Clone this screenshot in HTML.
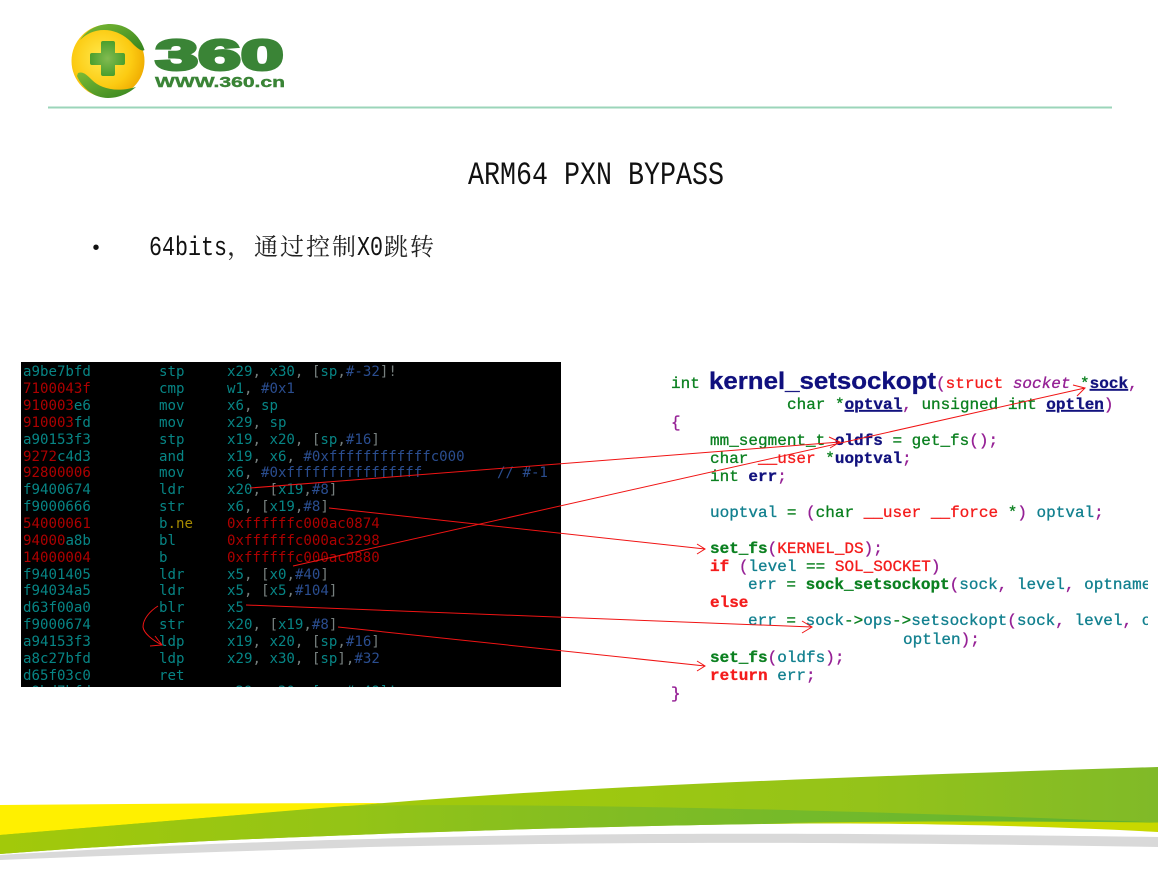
<!DOCTYPE html>
<html><head><meta charset="utf-8"><style>
html,body{margin:0;padding:0;background:#fff;width:1158px;height:869px;overflow:hidden}
svg{display:block}
text{white-space:pre}
.a text,.a{font-family:"DejaVu Sans Mono","Liberation Mono",monospace;font-size:14.1px}
.c{font-family:"Liberation Mono",monospace;font-size:16px;stroke-width:.3}
.t{fill:#078585}.r{fill:#ad0000}.b{fill:#2a4d8f}.g{fill:#77807f}.y{fill:#a58a00}
.gr{fill:#0b8020;stroke:#0b8020}.n{fill:#12127e;stroke:#12127e}.rd{fill:#f41c1c;stroke:#f41c1c}.te{fill:#12808f;stroke:#12808f}.p{fill:#952095;stroke:#952095}
.bd{font-weight:bold}.u{text-decoration:underline}
</style></head><body>
<svg width="1158" height="869" viewBox="0 0 1158 869" xmlns="http://www.w3.org/2000/svg">
<defs>
<radialGradient id="yl" cx="42%" cy="45%" r="62%"><stop offset="0" stop-color="#ffe94d"/><stop offset=".65" stop-color="#fccb12"/><stop offset="1" stop-color="#eea900"/></radialGradient>
<linearGradient id="lg" x1="0" x2="1" y1="0" y2="1"><stop offset="0" stop-color="#7dbb35"/><stop offset="1" stop-color="#35841f"/></linearGradient>
<radialGradient id="pl" cx="50%" cy="50%" r="55%"><stop offset="0" stop-color="#82bb50"/><stop offset="1" stop-color="#459c2a"/></radialGradient>
<linearGradient id="gm" gradientUnits="userSpaceOnUse" x1="0" x2="1158" y1="0" y2="0"><stop offset="0" stop-color="#a4ca08"/><stop offset=".45" stop-color="#a0c90d"/><stop offset=".75" stop-color="#94c31a"/><stop offset="1" stop-color="#80ba28"/></linearGradient>
<linearGradient id="gd" gradientUnits="userSpaceOnUse" x1="0" x2="1158" y1="0" y2="0"><stop offset="0" stop-color="#a2c90a"/><stop offset=".3" stop-color="#94c416"/><stop offset=".55" stop-color="#80bc24"/><stop offset=".8" stop-color="#6cb82e"/><stop offset="1" stop-color="#5fb030"/></linearGradient>
<clipPath id="cp1"><rect x="21" y="362" width="540" height="325"/></clipPath>
<clipPath id="cp2"><rect x="660" y="360" width="488" height="350"/></clipPath>
</defs>

<!-- logo -->
<circle cx="108" cy="61" r="36.5" fill="url(#yl)"/>
<path d="M80 40C88 28 100 24 110 24C128 24 140 36 144.500 50C142 52 137 48 133 44C126 36 116 30 104 30C94 30 86 34 80 40Z" fill="url(#lg)"/>
<path d="M78 73C83 71 87 75 92 80C100 88 115 93 136 87C128 94 118 98 108 98C94 98 82 88 77 76Z" fill="url(#lg)"/>
<path d="M103 41h10a2 2 0 0 1 2 2v10h8a2 2 0 0 1 2 2v8a2 2 0 0 1-2 2h-8v9a2 2 0 0 1-2 2h-10a2 2 0 0 1-2-2v-9h-9a2 2 0 0 1-2-2v-8a2 2 0 0 1 2-2h9v-10a2 2 0 0 1 2-2z" fill="url(#pl)"/>
<text x="155.500" y="69.500" font-family="Liberation Sans" font-weight="bold" font-size="43" textLength="128" lengthAdjust="spacingAndGlyphs" fill="#3a8436" stroke="#3a8436" stroke-width="3">360</text>
<text x="155" y="87" font-family="Liberation Sans" font-weight="bold" font-size="15" textLength="130" lengthAdjust="spacingAndGlyphs" fill="#3a8436" stroke="#3a8436" stroke-width=".4">WWW.360.cn</text>
<rect x="48" y="106.500" width="1064" height="2" fill="#9bd5ba"/>

<!-- title -->
<text x="468" y="184" font-family="Liberation Mono" font-size="32" textLength="256" lengthAdjust="spacingAndGlyphs" fill="#111">ARM64 PXN BYPASS</text>
<text x="92.500" y="254" font-family="Liberation Sans" font-size="20" fill="#111">•</text>
<text x="149" y="255" font-family="Liberation Mono" font-size="27" textLength="78" lengthAdjust="spacingAndGlyphs" fill="#111">64bits</text>
<text x="227" y="255" font-family="Noto Serif CJK SC,serif" font-size="25" fill="#222">，</text>
<text x="254 280 306 332" y="255" font-family="Noto Serif CJK SC,serif" font-size="24" fill="#222">通过控制</text>
<text x="357" y="255" font-family="Liberation Mono" font-size="27" textLength="26" lengthAdjust="spacingAndGlyphs" fill="#111">X0</text>
<text x="384 410" y="255" font-family="Noto Serif CJK SC,serif" font-size="24" fill="#222">跳转</text>

<!-- left panel -->
<rect x="21" y="362" width="540" height="325" fill="#000"/>
<g class="a" clip-path="url(#cp1)">
<text x="23" y="376"><tspan class="t">a9be7bfd</tspan></text><text x="159" y="376" class="t">stp</text><text x="227" y="376"><tspan class="t">x29</tspan><tspan class="g">, </tspan><tspan class="t">x30</tspan><tspan class="g">, [</tspan><tspan class="t">sp</tspan><tspan class="g">,</tspan><tspan class="b">#-32</tspan><tspan class="g">]!</tspan></text>
<text x="23" y="393" class="r">7100043f</text><text x="159" y="393" class="t">cmp</text><text x="227" y="393"><tspan class="t">w1</tspan><tspan class="g">, </tspan><tspan class="b">#0x1</tspan></text>
<text x="23" y="410"><tspan class="r">910003</tspan><tspan class="t">e6</tspan></text><text x="159" y="410" class="t">mov</text><text x="227" y="410"><tspan class="t">x6</tspan><tspan class="g">, </tspan><tspan class="t">sp</tspan></text>
<text x="23" y="427"><tspan class="r">910003</tspan><tspan class="t">fd</tspan></text><text x="159" y="427" class="t">mov</text><text x="227" y="427"><tspan class="t">x29</tspan><tspan class="g">, </tspan><tspan class="t">sp</tspan></text>
<text x="23" y="444" class="t">a90153f3</text><text x="159" y="444" class="t">stp</text><text x="227" y="444"><tspan class="t">x19</tspan><tspan class="g">, </tspan><tspan class="t">x20</tspan><tspan class="g">, [</tspan><tspan class="t">sp</tspan><tspan class="g">,</tspan><tspan class="b">#16</tspan><tspan class="g">]</tspan></text>
<text x="23" y="461"><tspan class="r">9272</tspan><tspan class="t">c4d3</tspan></text><text x="159" y="461" class="t">and</text><text x="227" y="461"><tspan class="t">x19</tspan><tspan class="g">, </tspan><tspan class="t">x6</tspan><tspan class="g">, </tspan><tspan class="b">#0xffffffffffffc000</tspan></text>
<text x="23" y="477" class="r">92800006</text><text x="159" y="477" class="t">mov</text><text x="227" y="477"><tspan class="t">x6</tspan><tspan class="g">, </tspan><tspan class="b">#0xffffffffffffffff</tspan></text><text x="497" y="477" class="b">// #-1</text>
<text x="23" y="494" class="t">f9400674</text><text x="159" y="494" class="t">ldr</text><text x="227" y="494"><tspan class="t">x20</tspan><tspan class="g">, [</tspan><tspan class="t">x19</tspan><tspan class="g">,</tspan><tspan class="b">#8</tspan><tspan class="g">]</tspan></text>
<text x="23" y="511" class="t">f9000666</text><text x="159" y="511" class="t">str</text><text x="227" y="511"><tspan class="t">x6</tspan><tspan class="g">, [</tspan><tspan class="t">x19</tspan><tspan class="g">,</tspan><tspan class="b">#8</tspan><tspan class="g">]</tspan></text>
<text x="23" y="528" class="r">54000061</text><text x="159" y="528"><tspan class="t">b</tspan><tspan class="y">.ne</tspan></text><text x="227" y="528" class="r">0xffffffc000ac0874</text>
<text x="23" y="545"><tspan class="r">94000</tspan><tspan class="t">a8b</tspan></text><text x="159" y="545" class="t">bl</text><text x="227" y="545" class="r">0xffffffc000ac3298</text>
<text x="23" y="562" class="r">14000004</text><text x="159" y="562" class="t">b</text><text x="227" y="562" class="r">0xffffffc000ac0880</text>
<text x="23" y="579" class="t">f9401405</text><text x="159" y="579" class="t">ldr</text><text x="227" y="579"><tspan class="t">x5</tspan><tspan class="g">, [</tspan><tspan class="t">x0</tspan><tspan class="g">,</tspan><tspan class="b">#40</tspan><tspan class="g">]</tspan></text>
<text x="23" y="595" class="t">f94034a5</text><text x="159" y="595" class="t">ldr</text><text x="227" y="595"><tspan class="t">x5</tspan><tspan class="g">, [</tspan><tspan class="t">x5</tspan><tspan class="g">,</tspan><tspan class="b">#104</tspan><tspan class="g">]</tspan></text>
<text x="23" y="612" class="t">d63f00a0</text><text x="159" y="612" class="t">blr</text><text x="227" y="612" class="t">x5</text>
<text x="23" y="629" class="t">f9000674</text><text x="159" y="629" class="t">str</text><text x="227" y="629"><tspan class="t">x20</tspan><tspan class="g">, [</tspan><tspan class="t">x19</tspan><tspan class="g">,</tspan><tspan class="b">#8</tspan><tspan class="g">]</tspan></text>
<text x="23" y="646" class="t">a94153f3</text><text x="159" y="646" class="t">ldp</text><text x="227" y="646"><tspan class="t">x19</tspan><tspan class="g">, </tspan><tspan class="t">x20</tspan><tspan class="g">, [</tspan><tspan class="t">sp</tspan><tspan class="g">,</tspan><tspan class="b">#16</tspan><tspan class="g">]</tspan></text>
<text x="23" y="663" class="t">a8c27bfd</text><text x="159" y="663" class="t">ldp</text><text x="227" y="663"><tspan class="t">x29</tspan><tspan class="g">, </tspan><tspan class="t">x30</tspan><tspan class="g">, [</tspan><tspan class="t">sp</tspan><tspan class="g">],</tspan><tspan class="b">#32</tspan></text>
<text x="23" y="680" class="t">d65f03c0</text><text x="159" y="680" class="t">ret</text>
<text x="23" y="696" class="t">a9bd7bfd</text><text x="227" y="696" class="t">x29, x30, [sp,#-48]!</text>
</g>

<!-- right code -->
<g class="c" clip-path="url(#cp2)">
<text x="671" y="388" class="gr">int</text>
<text x="709" y="389" font-family="Liberation Sans" font-weight="bold" font-size="24" textLength="227" lengthAdjust="spacingAndGlyphs" fill="#10107e" stroke="#10107e">kernel_setsockopt</text>
<text x="936" y="388"><tspan class="p">(</tspan><tspan class="rd">struct</tspan><tspan> </tspan><tspan class="p" font-style="italic">socket</tspan><tspan> </tspan><tspan class="gr">*</tspan><tspan class="n u bd">sock</tspan><tspan class="p">,</tspan></text>
<text x="787" y="409"><tspan class="gr">char</tspan><tspan> </tspan><tspan class="gr">*</tspan><tspan class="n u bd">optval</tspan><tspan class="p">,</tspan><tspan> </tspan><tspan class="gr">unsigned int</tspan><tspan> </tspan><tspan class="n u bd">optlen</tspan><tspan class="p">)</tspan></text>
<text x="671" y="427" class="p">{</text>
<text x="710" y="445"><tspan class="gr">mm_segment_t</tspan><tspan> </tspan><tspan class="n bd">oldfs</tspan><tspan class="gr"> = get_fs</tspan><tspan class="p">();</tspan></text>
<text x="710" y="463"><tspan class="gr">char</tspan><tspan> </tspan><tspan class="rd">__user</tspan><tspan> </tspan><tspan class="gr">*</tspan><tspan class="n bd">uoptval</tspan><tspan class="p">;</tspan></text>
<text x="710" y="481"><tspan class="gr">int</tspan><tspan> </tspan><tspan class="n bd">err</tspan><tspan class="p">;</tspan></text>
<text x="710" y="517"><tspan class="te">uoptval</tspan><tspan class="gr"> = </tspan><tspan class="p">(</tspan><tspan class="gr">char</tspan><tspan> </tspan><tspan class="rd">__user</tspan><tspan> </tspan><tspan class="rd">__force</tspan><tspan> </tspan><tspan class="gr">*</tspan><tspan class="p">)</tspan><tspan> </tspan><tspan class="te">optval</tspan><tspan class="p">;</tspan></text>
<text x="710" y="553"><tspan class="gr bd">set_fs</tspan><tspan class="p">(</tspan><tspan class="rd">KERNEL_DS</tspan><tspan class="p">);</tspan></text>
<text x="710" y="571"><tspan class="rd bd">if</tspan><tspan> </tspan><tspan class="p">(</tspan><tspan class="te">level</tspan><tspan class="gr"> == </tspan><tspan class="rd">SOL_SOCKET</tspan><tspan class="p">)</tspan></text>
<text x="748" y="589"><tspan class="te">err</tspan><tspan class="gr"> = </tspan><tspan class="gr bd">sock_setsockopt</tspan><tspan class="p">(</tspan><tspan class="te">sock</tspan><tspan class="p">,</tspan><tspan> </tspan><tspan class="te">level</tspan><tspan class="p">,</tspan><tspan> </tspan><tspan class="te">optname</tspan></text>
<text x="710" y="607" class="rd bd">else</text>
<text x="748" y="625"><tspan class="te">err</tspan><tspan class="gr"> = </tspan><tspan class="te">sock</tspan><tspan class="gr">-&gt;</tspan><tspan class="te">ops</tspan><tspan class="gr">-&gt;</tspan><tspan class="te">setsockopt</tspan><tspan class="p">(</tspan><tspan class="te">sock</tspan><tspan class="p">,</tspan><tspan> </tspan><tspan class="te">level</tspan><tspan class="p">,</tspan><tspan> </tspan><tspan class="te">optname</tspan></text>
<text x="903" y="644"><tspan class="te">optlen</tspan><tspan class="p">);</tspan></text>
<text x="710" y="662"><tspan class="gr bd">set_fs</tspan><tspan class="p">(</tspan><tspan class="te">oldfs</tspan><tspan class="p">);</tspan></text>
<text x="710" y="680"><tspan class="rd bd">return</tspan><tspan> </tspan><tspan class="te">err</tspan><tspan class="p">;</tspan></text>
<text x="671" y="698" class="p">}</text>
</g>

<!-- arrows -->
<g fill="none" stroke="#f01414" stroke-width="1">
<path d="M250 488L840 442M829 437L840 442L830 448"/>
<path d="M293 566L1085 388M1073 385L1085 388L1077 396"/>
<path d="M329 508L705 549M697 544L705 549L697 554"/>
<path d="M246 605L812 627M802 621L812 627L802 633"/>
<path d="M338 627L705 666M697 661L705 666L697 671"/>
<path d="M158 606C150 611 143 619 143 627C144 634 154 641 162 645M155 636L162 645L150 646"/>
</g>

<!-- footer -->
<path d="M0 805L200 803.500L384 803L200 820L0 836Z" fill="#fff000"/>
<path d="M0 835L384 803C600 785 900 775 1158 767V823C1000 823 850 822 700 825C500 829 200 838 0 854Z" fill="url(#gm)"/>
<path d="M0 835L345 806C520 803 800 808 1158 822.500C1000 822.500 850 822 700 825C500 829 200 838 0 854Z" fill="url(#gd)"/>
<path d="M760 823.500C900 820.500 1050 821.500 1158 822.500V832C1050 826 900 822.500 760 823.500Z" fill="#c8d800"/>
<path d="M0 855C150 846 250 842 369 839C550 833 800 832 1158 837V847C800 841 600 842 369 847C250 851 120 855 0 860Z" fill="#d9d9d9"/>
</svg>
</body></html>
